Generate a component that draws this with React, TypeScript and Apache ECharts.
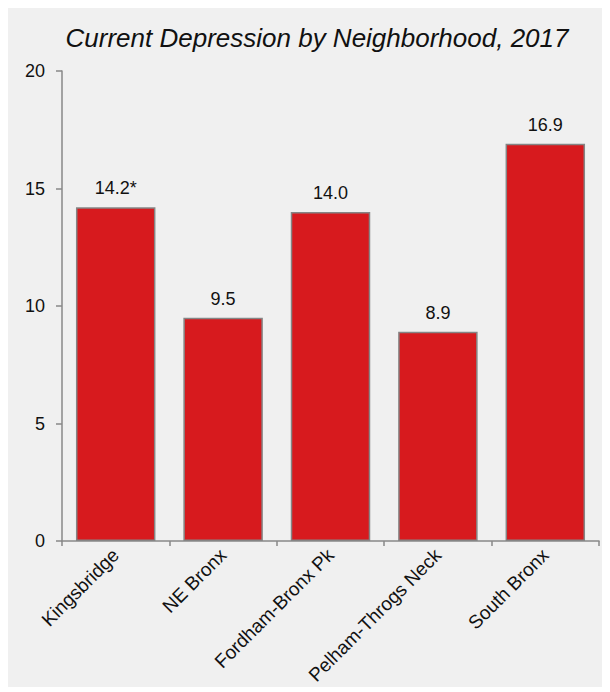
import React, { useEffect, useRef } from "react";
import * as echarts from "echarts";

const titleText = "Current Depression by Neighborhood, 2017";
const categories = ["Kingsbridge", "NE Bronx", "Fordham-Bronx Pk", "Pelham-Throgs Neck", "South Bronx"];
const values = [14.2, 9.5, 14.0, 8.9, 16.9];
const valueLabels = ["14.2*", "9.5", "14.0", "8.9", "16.9"];

export default function App() {
  const ref = useRef<HTMLDivElement>(null);
  useEffect(() => {
    if (!ref.current) return;
    const chart = echarts.init(ref.current, undefined, { renderer: "svg" });
    chart.setOption({
      animation: false,
      backgroundColor: "#f0f0f0",
      textStyle: { fontFamily: "Liberation Sans, Arial, sans-serif" },
      title: {
        text: titleText,
        left: 304,
        textAlign: "center",
        top: 12,
        textStyle: {
          fontSize: 26,
          fontStyle: "italic",
          fontWeight: "normal",
          color: "#111",
          fontFamily: "Liberation Sans, Arial, sans-serif",
        },
      },
      grid: { left: 54, right: 11, top: 63, bottom: 146, outerBoundsMode: "none", containLabel: false },
      xAxis: {
        type: "category",
        data: categories,
        axisLine: { lineStyle: { color: "#888", width: 1.5 } },
        axisTick: { show: true, length: 5, lineStyle: { color: "#888", width: 1.5 } },
        axisLabel: { rotate: 45, fontSize: 19, color: "#111", margin: 11, interval: 0 },
      },
      yAxis: {
        type: "value",
        min: 0,
        max: 20,
        interval: 5,
        splitLine: { show: false },
        axisLine: { show: true, lineStyle: { color: "#888", width: 1.5 } },
        axisTick: { show: true, length: 6, lineStyle: { color: "#888", width: 1.5 } },
        axisLabel: { fontSize: 18, color: "#111", margin: 17 },
      },
      series: [
        {
          type: "bar",
          data: values,
          barCategoryGap: "26%",
          itemStyle: { color: "#d71a1e", borderColor: "#858585", borderWidth: 1.5 },
          label: {
            show: true,
            position: "top",
            distance: 10,
            fontSize: 18,
            color: "#111",
            formatter: (p: any) => valueLabels[p.dataIndex],
          },
        },
      ],
    });
    return () => chart.dispose();
  }, []);
  return <div ref={ref} style={{ width: 602, height: 679 }} />;
}
